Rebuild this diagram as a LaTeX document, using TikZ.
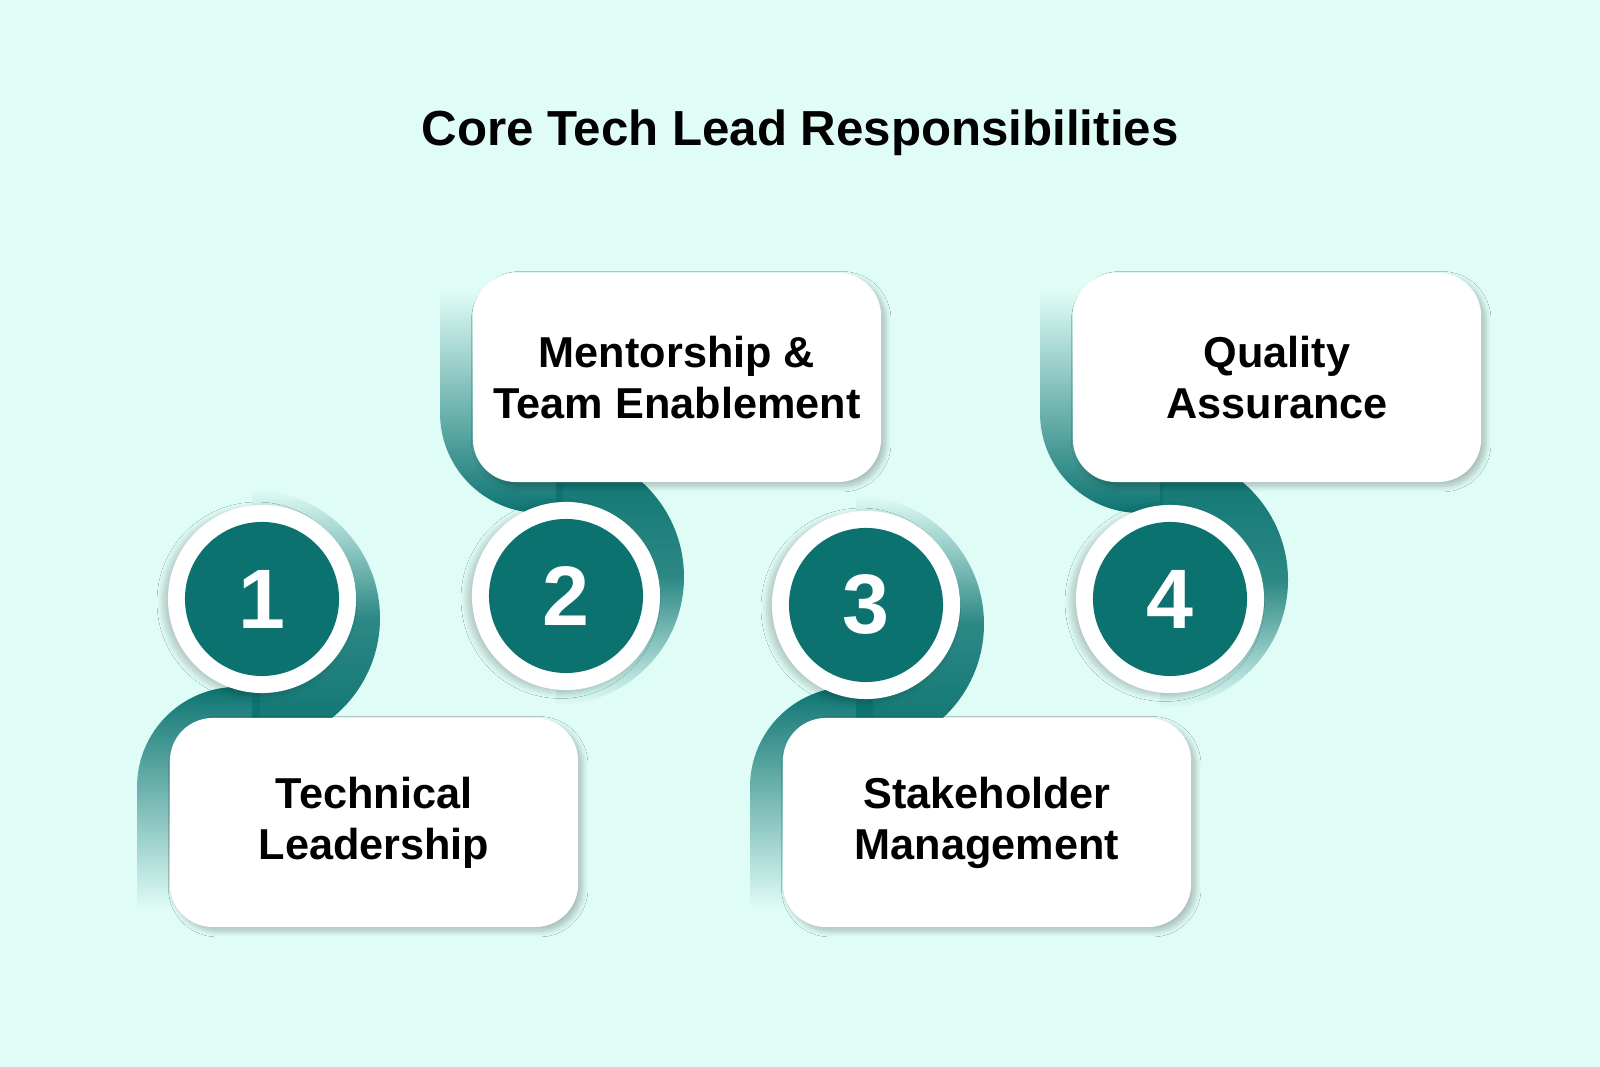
\documentclass[tikz,border=0pt]{standalone}
\usepackage{fontspec}
\setmainfont{Liberation Sans}
\usetikzlibrary{fadings,shadows,shadows.blur}
\definecolor{bgmint}{RGB}{224,252,246}
\definecolor{tealmain}{RGB}{11,114,112}
\definecolor{tealdark}{RGB}{7,88,87}
\definecolor{tealband}{RGB}{13,116,113}
% fadings for the ribbons
\tikzfading[name=arc up, top color=transparent!100, bottom color=transparent!0, middle color=transparent!15]
\tikzfading[name=arc down, top color=transparent!0, bottom color=transparent!100, middle color=transparent!15]
\tikzfading[name=band up, top color=transparent!100, bottom color=transparent!0, middle color=transparent!50]
\tikzfading[name=band down, top color=transparent!0, bottom color=transparent!100, middle color=transparent!50]
\pgfdeclareradialshading{numball}{\pgfpoint{0bp}{0bp}}{color(0bp)=(tealmain); color(38bp)=(tealmain); color(50bp)=(tealdark)}
\tikzset{
  ribbon/.style={fill=tealband},
  card/.style={rectangle, fill=white, rounded corners=0.43cm, minimum width=4.08cm, minimum height=2.09cm, align=center,
    font=\fontsize{12.3}{14.5}\selectfont\bfseries,
    blur shadow={shadow xshift=1.2pt, shadow yshift=-1.2pt, shadow blur radius=1.6pt, shadow blur steps=10, shadow opacity=25}},
  numring/.style={circle, fill=white, minimum size=1.88cm, inner sep=0pt,
    blur shadow={shadow xshift=-1.5pt, shadow yshift=-0.8pt, shadow blur radius=1.6pt, shadow blur steps=10, shadow opacity=20}},
  numcore/.style={circle, shade, shading=numball, minimum size=1.54cm, inner sep=0pt, text=white,
    font=\fontsize{24}{28}\selectfont\bfseries}
}
\begin{document}
\begin{tikzpicture}[x=0.01cm, y=0.01cm]
\useasboundingbox (0,0) rectangle (1600,1067);
\fill[bgmint] (0,0) rectangle (1600,1067);
\node[font=\fontsize{14}{17}\selectfont\bfseries] (title) at (800,934) {Core Tech Lead Responsibilities};
% ribbons
\fill[ribbon, path fading=arc up] (252,577) arc[start angle=90, end angle=-90, radius=128] -- cycle;
\fill[ribbon, path fading=band down] (137,159) -- (137,280) arc[start angle=180, end angle=90, radius=100] -- (260,380) -- (260,159) -- cycle;
\fill[ribbon, path fading=arc down] (556,618) arc[start angle=90, end angle=-90, radius=128] -- cycle;
\fill[ribbon, path fading=band up] (440,775) -- (440,654) arc[start angle=180, end angle=270, radius=100] -- (563,554) -- (563,775) -- cycle;
\fill[ribbon, path fading=arc up] (856,571) arc[start angle=90, end angle=-90, radius=128] -- cycle;
\fill[ribbon, path fading=band down] (750,159) -- (750,280) arc[start angle=180, end angle=90, radius=100] -- (873,380) -- (873,159) -- cycle;
\fill[ribbon, path fading=arc down] (1160,615) arc[start angle=90, end angle=-90, radius=128] -- cycle;
\fill[ribbon, path fading=band up] (1040,775) -- (1040,654) arc[start angle=180, end angle=270, radius=100] -- (1163,554) -- (1163,775) -- cycle;
% cards
\node[card] (box1) at (374,244.5) {Technical\\Leadership};
\node[card] (box2) at (677,689.5) {Mentorship \&\\Team Enablement};
\node[card] (box3) at (987,244.5) {Stakeholder\\Management};
\node[card] (box4) at (1277,689.5) {Quality\\Assurance};
% numbers
\node[numring] (ring1) at (262,468) {};
\node[numcore] (num1) at (ring1) {1};
\node[numring] (ring2) at (566,471) {};
\node[numcore] (num2) at (ring2) {2};
\node[numring] (ring3) at (866,462) {};
\node[numcore] (num3) at (ring3) {3};
\node[numring] (ring4) at (1170,468) {};
\node[numcore] (num4) at (ring4) {4};
\end{tikzpicture}
\end{document}
